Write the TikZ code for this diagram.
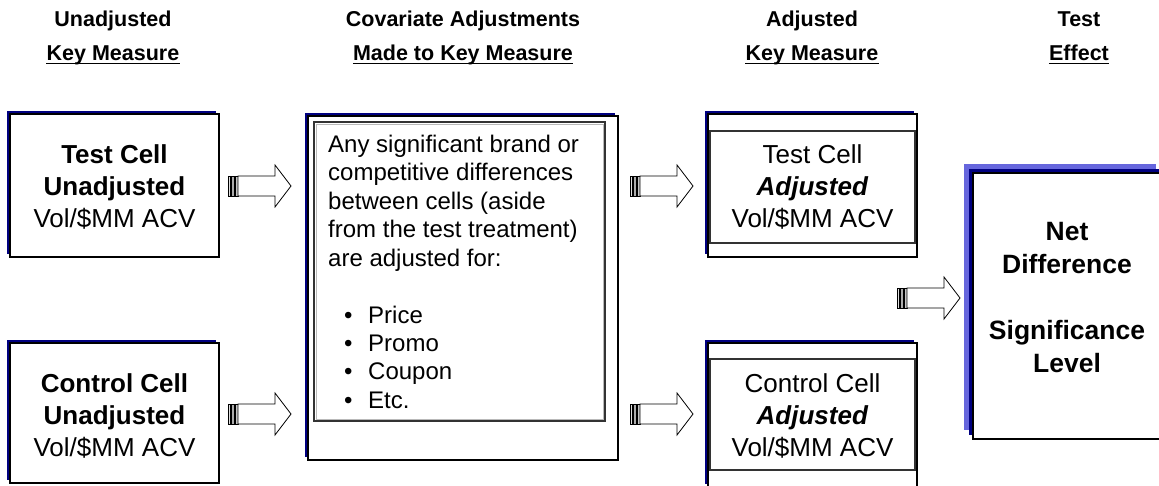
\documentclass[tikz,border=0pt]{standalone}
\usepackage{fontspec}
\setmainfont{Liberation Sans}
\usetikzlibrary{calc,shadows}
\definecolor{navyblue}{RGB}{0,0,128}
\definecolor{lightnavy}{RGB}{102,102,221}
\tikzset{
  hdr/.style={font=\fontsize{21.5}{30}\selectfont\bfseries, anchor=base, inner sep=0pt},
  body/.style={font=\fontsize{26}{32}\selectfont, align=center, anchor=base, inner sep=0pt},
  cellbox/.style={draw=black, line width=2pt, fill=white, inner sep=0pt, outer sep=0pt,
     general shadow={fill=navyblue, shadow xshift=-3.5pt, shadow yshift=3.5pt}},
  netbox/.style={draw=black, line width=2pt, fill=white, inner sep=0pt, outer sep=0pt,
     general shadow={fill=lightnavy, shadow xshift=-9pt, shadow yshift=9pt},
     general shadow={fill=navyblue, shadow xshift=-4.5pt, shadow yshift=4.5pt}},
  innerframe/.style={draw=black!80, line width=1.2pt},
  blockarr/.pic={
    \draw[line width=0.5pt, fill=gray!25] (0,-10) rectangle (2.5,10);
    \draw[line width=0.5pt, fill=gray!65] (3.5,-10) rectangle (6,10);
    \draw[line width=0.5pt, fill=gray!45] (7,-10) rectangle (10,10);
    \draw[line width=0.8pt, fill=white, line join=miter]
      (10,-10) -- (47,-10) -- (47,-21) -- (63,0) -- (47,21) -- (47,10) -- (10,10) -- cycle;
  }
}
\begin{document}
\begin{tikzpicture}[x=1pt,y=-1pt]
\path[use as bounding box] (0,0) rectangle (1159,485);
\clip (0,0) rectangle (1159,485);

% headers
\node[hdr] (h1a) at (113,26) {Unadjusted};
\node[hdr] (h1b) at (113,60) {Key Measure};
\node[hdr] (h2a) at (463,26) {Covariate Adjustments};
\node[hdr] (h2b) at (463,60) {Made to Key Measure};
\node[hdr] (h3a) at (812,26) {Adjusted};
\node[hdr] (h3b) at (812,60) {Key Measure};
\node[hdr] (h4a) at (1079,26) {Test};
\node[hdr] (h4b) at (1079,60) {Effect};
\foreach \h in {h1b,h2b,h3b,h4b}
  \draw[line width=1.6pt] ([yshift=-3.5pt]\h.base west) -- ([yshift=-3.5pt]\h.base east);

% boxes
\node[cellbox, minimum width=209pt, minimum height=143pt] (tu) at (114.5,185.5) {};
\node[cellbox, minimum width=209pt, minimum height=140pt] (cu) at (114.5,413) {};
\node[cellbox, minimum width=310pt, minimum height=344pt] (mid) at (463,288) {};
\node[cellbox, minimum width=209pt, minimum height=143pt] (ta) at (812.5,185.5) {};
\node[cellbox, minimum width=209pt, minimum height=144pt] (ca) at (812.5,415) {};
\node[netbox, minimum width=192pt, minimum height=266pt] (net) at (1069,306) {};

% inner frames
\draw[innerframe] ([shift={(6,6)}]mid.north west) rectangle ([shift={(-13,-39)}]mid.south east);
\draw[gray!55, line width=0.8pt] ([shift={(8,8)}]mid.north west) rectangle ([shift={(-15,-41)}]mid.south east);
\draw[innerframe] ([shift={(2,17)}]ta.north west) rectangle ([shift={(-2,-14)}]ta.south east);
\draw[innerframe] ([shift={(2,16)}]ca.north west) rectangle ([shift={(-2,-17)}]ca.south east);

% texts (anchor base = baseline of the last line)
\node[body] (tut) at (114.5,227) {\textbf{Test Cell}\\\textbf{Unadjusted}\\Vol/\$MM ACV};
\node[body] (cut) at (114.5,456) {\textbf{Control Cell}\\\textbf{Unadjusted}\\Vol/\$MM ACV};
\node[body] (tat) at (812.5,227) {Test Cell\\\textbf{\textit{Adjusted}}\\Vol/\$MM ACV};
\node[body] (cat) at (812.5,456) {Control Cell\\\textbf{\textit{Adjusted}}\\Vol/\$MM ACV};
\node[font=\fontsize{24}{28.5}\selectfont, align=left, anchor=base west, inner sep=0pt] (midt) at (328,266)
  {Any significant brand or\\competitive differences\\between cells (aside\\from the test treatment)\\are adjusted for:};
\node[font=\fontsize{24}{28.3}\selectfont, align=left, anchor=base west, inner sep=0pt] (midl) at (344,408)
  {\makebox[24pt][l]{\textbullet}Price\\\makebox[24pt][l]{\textbullet}Promo\\\makebox[24pt][l]{\textbullet}Coupon\\\makebox[24pt][l]{\textbullet}Etc.};
\node[body, font=\fontsize{26.5}{33}\selectfont\bfseries] (nett) at (1067,372)
  {Net\\Difference\\[33pt]Significance\\Level};

% block arrows
\pic at ([xshift=9pt]tu.east |- 0,186) {blockarr};
\pic at ([xshift=9pt]cu.east |- 0,414) {blockarr};
\pic at ([xshift=12pt]mid.east |- 0,186) {blockarr};
\pic at ([xshift=12pt]mid.east |- 0,414) {blockarr};
\pic at ($(ta.south east)!0.5!(ca.north east) + (-20,-2)$) {blockarr};
\end{tikzpicture}
\end{document}
